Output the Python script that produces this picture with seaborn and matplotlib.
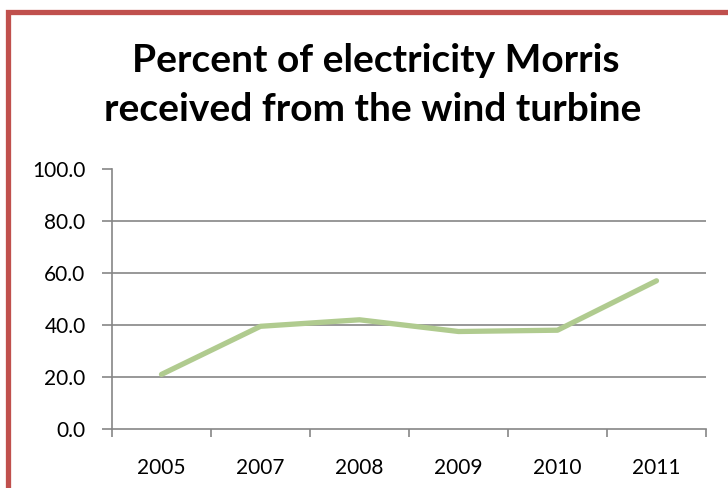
import matplotlib
matplotlib.use('Agg')
import matplotlib.pyplot as plt
from matplotlib.patches import Rectangle
from matplotlib.ticker import FixedLocator, FormatStrFormatter
import seaborn as sns
import pandas as pd

# Data
years = ['2005', '2007', '2008', '2009', '2010', '2011']
percent = [21.0, 39.5, 42.0, 37.5, 38.0, 57.0]
y_ticks = [0, 20, 40, 60, 80, 100]

df = pd.DataFrame({'year': years, 'percent': percent})

sns.set_style('white')
plt.rcParams['font.family'] = ['Lato', 'DejaVu Sans']
plt.rcParams['text.color'] = 'black'

fig = plt.figure(figsize=(7.28, 4.88), dpi=100)
ax = fig.add_axes([112 / 728, 59 / 488, 594 / 728, 260 / 488])

sns.lineplot(data=df, x='year', y='percent', ax=ax, color='#B0CB8F',
             linewidth=3.8, solid_capstyle='round', sort=False)

ax.set_xlim(-0.5, len(years) - 0.5)
ax.set_ylim(0, 100)
ax.set_yticks(y_ticks)
ax.yaxis.set_major_formatter(FormatStrFormatter('%.1f'))
ax.set_xlabel('')
ax.set_ylabel('')

# ticks between categories
ax.xaxis.set_minor_locator(FixedLocator([i - 0.5 for i in range(len(years) + 1)]))
ax.tick_params(axis='x', which='major', length=0, pad=21, labelsize=15, labelcolor='black')
ax.tick_params(axis='x', which='minor', length=6, width=1.2, color='#868686', bottom=True)
ax.tick_params(axis='y', length=7, width=1.2, color='#868686', pad=12, labelsize=15,
               labelcolor='black', left=True)

for side in ['top', 'right']:
    ax.spines[side].set_visible(False)
for side in ['left', 'bottom']:
    ax.spines[side].set_color('#868686')
    ax.spines[side].set_linewidth(1.2)

ax.grid(axis='y', color='#868686', linewidth=1.2)
ax.set_axisbelow(True)
gl = ax.get_ygridlines()
gl[0].set_visible(False)
gl[-1].set_visible(False)

# title
fig.text(376 / 728, 1 - 72 / 488, 'Percent of electricity Morris', ha='center',
         va='baseline', fontsize=28, fontweight='bold', color='black')
fig.text(373 / 728, 1 - 121 / 488, 'received from the wind turbine', ha='center',
         va='baseline', fontsize=28, fontweight='bold', color='black')

# red chart border (cropped at right and bottom)
fig.patches.append(Rectangle((7.5 / 728, -0.2), 1.2, 1.2 - 12 / 488,
                             transform=fig.transFigure, fill=False,
                             edgecolor='#C0504D', linewidth=3.8))

fig.savefig('out.png', dpi=100)
